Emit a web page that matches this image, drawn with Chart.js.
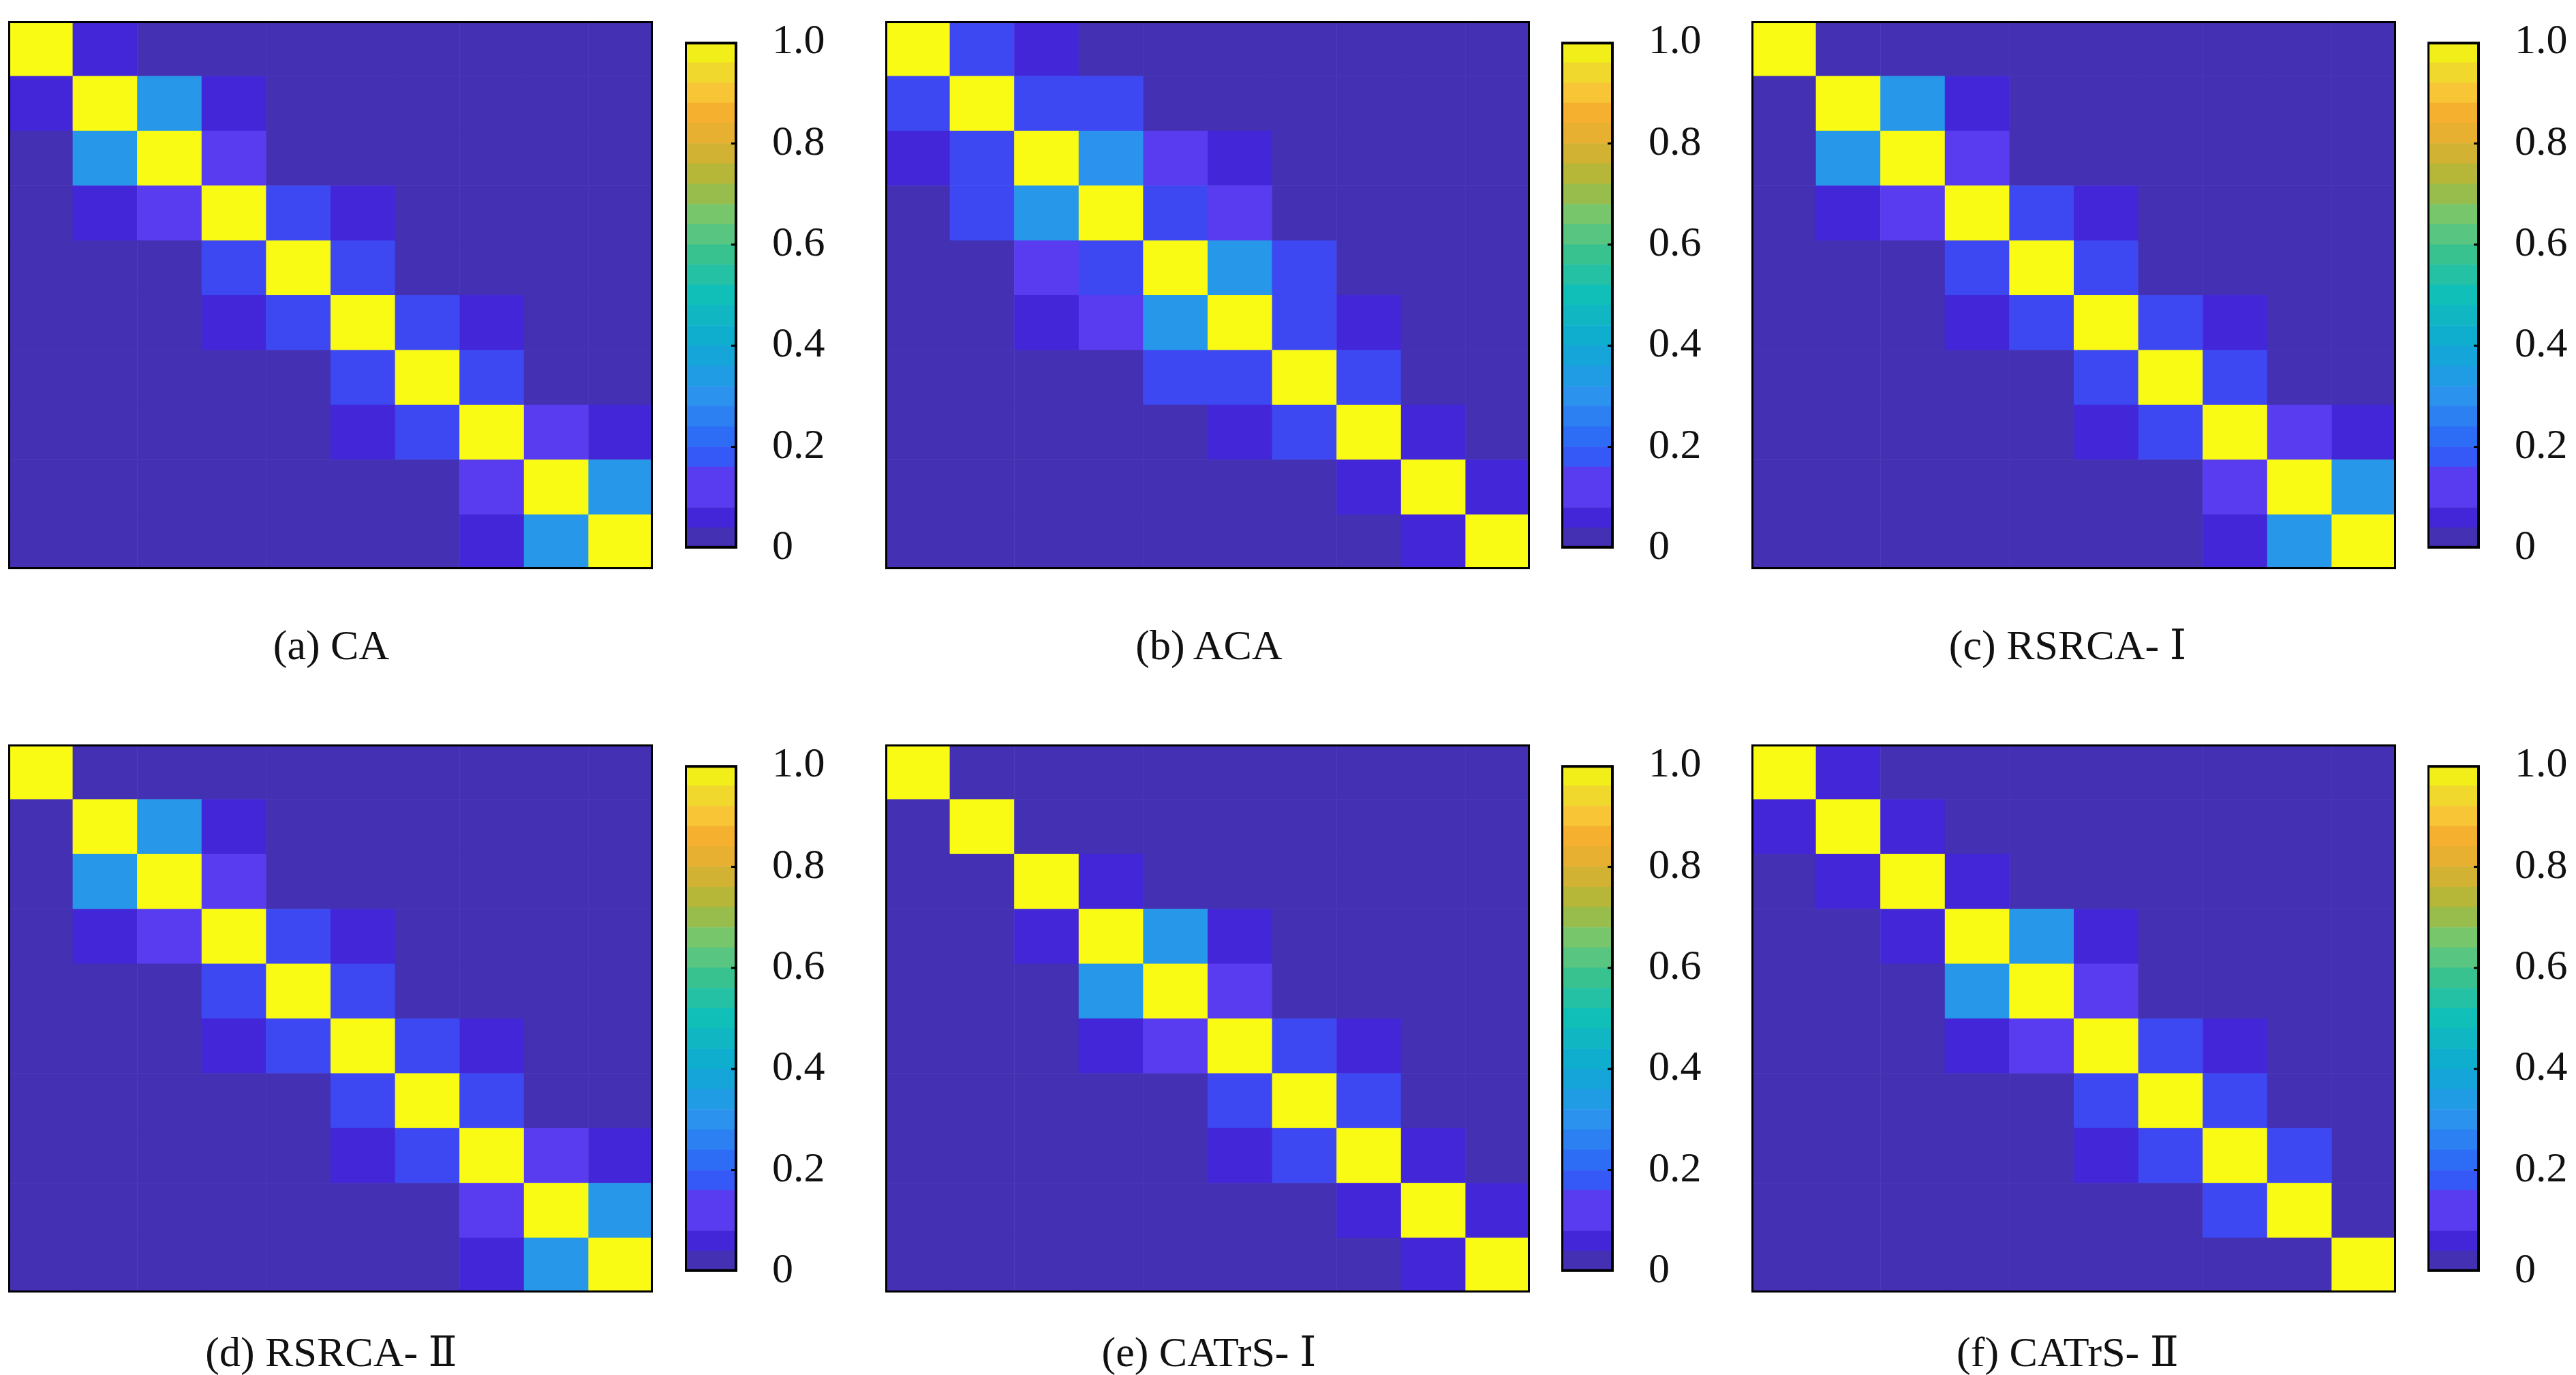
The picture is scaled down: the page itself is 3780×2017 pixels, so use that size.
<!DOCTYPE html>
<html><head><meta charset="utf-8">
<script src="https://cdn.jsdelivr.net/npm/chart.js@4.4.1/dist/chart.umd.min.js"></script>
<style>
body{margin:0;background:#fff;width:3780px;height:2017px;position:relative;overflow:hidden;font-family:"Liberation Serif","DejaVu Serif",serif}
canvas{position:absolute}
.lab{position:absolute;font-size:62px;color:#111;transform:translateX(-50%);white-space:nowrap;line-height:1}
</style></head><body>
<script>
const titles=["(a) CA","(b) ACA","(c) RSRCA- Ⅰ","(d) RSRCA- Ⅱ","(e) CATrS- Ⅰ","(f) CATrS- Ⅱ"];
const cbTicks=[0,0.2,0.4,0.6,0.8,1.0];
const matA=[
[1,.05,0,0,0,0,0,0,0,0],
[.05,1,.32,.05,0,0,0,0,0,0],
[0,.32,1,.1,0,0,0,0,0,0],
[0,.05,.1,1,.15,.05,0,0,0,0],
[0,0,0,.15,1,.15,0,0,0,0],
[0,0,0,.05,.15,1,.15,.05,0,0],
[0,0,0,0,0,.15,1,.15,0,0],
[0,0,0,0,0,.05,.15,1,.1,.05],
[0,0,0,0,0,0,0,.1,1,.32],
[0,0,0,0,0,0,0,.05,.32,1]];
const matB=[
[1,.15,.05,0,0,0,0,0,0,0],
[.15,1,.15,.15,0,0,0,0,0,0],
[.05,.15,1,.3,.1,.05,0,0,0,0],
[0,.15,.32,1,.15,.1,0,0,0,0],
[0,0,.1,.15,1,.32,.15,0,0,0],
[0,0,.05,.1,.32,1,.15,.05,0,0],
[0,0,0,0,.15,.15,1,.15,0,0],
[0,0,0,0,0,.05,.15,1,.05,0],
[0,0,0,0,0,0,0,.05,1,.05],
[0,0,0,0,0,0,0,0,.05,1]];
const matC=[
[1,0,0,0,0,0,0,0,0,0],
[0,1,.32,.05,0,0,0,0,0,0],
[0,.32,1,.1,0,0,0,0,0,0],
[0,.05,.1,1,.15,.05,0,0,0,0],
[0,0,0,.15,1,.15,0,0,0,0],
[0,0,0,.05,.15,1,.15,.05,0,0],
[0,0,0,0,0,.15,1,.15,0,0],
[0,0,0,0,0,.05,.15,1,.1,.05],
[0,0,0,0,0,0,0,.1,1,.32],
[0,0,0,0,0,0,0,.05,.32,1]];
const matD=[
[1,0,0,0,0,0,0,0,0,0],
[0,1,.32,.05,0,0,0,0,0,0],
[0,.32,1,.1,0,0,0,0,0,0],
[0,.05,.1,1,.15,.05,0,0,0,0],
[0,0,0,.15,1,.15,0,0,0,0],
[0,0,0,.05,.15,1,.15,.05,0,0],
[0,0,0,0,0,.15,1,.15,0,0],
[0,0,0,0,0,.05,.15,1,.1,.05],
[0,0,0,0,0,0,0,.1,1,.32],
[0,0,0,0,0,0,0,.05,.32,1]];
const matE=[
[1,0,0,0,0,0,0,0,0,0],
[0,1,0,0,0,0,0,0,0,0],
[0,0,1,.05,0,0,0,0,0,0],
[0,0,.05,1,.32,.05,0,0,0,0],
[0,0,0,.32,1,.1,0,0,0,0],
[0,0,0,.05,.1,1,.15,.05,0,0],
[0,0,0,0,0,.15,1,.15,0,0],
[0,0,0,0,0,.05,.15,1,.05,0],
[0,0,0,0,0,0,0,.05,1,.05],
[0,0,0,0,0,0,0,0,.05,1]];
const matF=[
[1,.05,0,0,0,0,0,0,0,0],
[.05,1,.05,0,0,0,0,0,0,0],
[0,.05,1,.05,0,0,0,0,0,0],
[0,0,.05,1,.32,.05,0,0,0,0],
[0,0,0,.32,1,.1,0,0,0,0],
[0,0,0,.05,.1,1,.15,.05,0,0],
[0,0,0,0,0,.15,1,.15,0,0],
[0,0,0,0,0,.05,.15,1,.15,0],
[0,0,0,0,0,0,0,.15,1,0],
[0,0,0,0,0,0,0,0,0,1]];
const mats=[matA,matB,matC,matD,matE,matF];

// colormap (style only)
const anchors=[[0,'#4330b3'],[.04,'#4330b3'],[.05,'#4326d8'],[.09,'#4326d8'],[.10,'#5a3cf0'],[.14,'#5a3cf0'],[.15,'#3d48f2'],[.2,'#2e64f8'],[.3,'#2b92ee'],[.4,'#10aad4'],[.5,'#10c0b8'],[.58,'#38c290'],[.65,'#70c874'],[.72,'#a8b83c'],[.8,'#e0b030'],[.86,'#f5b030'],[.92,'#f8d038'],[.96,'#e8e020'],[1,'#f9fb14']];
function hex(h){return [1,3,5].map(i=>parseInt(h.substr(i,2),16));}
function cmap(v){
  for(let i=1;i<anchors.length;i++){if(v<=anchors[i][0]+1e-9){const [a,ca]=anchors[i-1],[b,cb]=anchors[i];const t=b>a?(v-a)/(b-a):0;const A=hex(ca),B=hex(cb);return 'rgb('+A.map((x,k)=>Math.round(x+(B[k]-x)*t)).join(',')+')';}}
  return anchors[anchors.length-1][1];
}
const NB=25;
const binVals=Array.from({length:NB},()=>1/NB);

const colX=[[12,1005],[1299,2291],[2570,3562]];
const rowY=[31,1092];
const labX=[486,1774,3034], labY=[915,1952];
const W=946,H=804,CBW=76;

const heatPlugin={id:'heat',afterDatasetsDraw(ch){
  const m=ch.options.plugins.heat.mat,x=ch.scales.x,y=ch.scales.y,c=ch.ctx;
  for(let r=0;r<m.length;r++)for(let k=0;k<m[r].length;k++){
    const x0=x.getPixelForValue(k),x1=x.getPixelForValue(k+1),y0=y.getPixelForValue(r),y1=y.getPixelForValue(r+1);
    c.fillStyle=cmap(m[r][k]);c.fillRect(x0,y0,x1-x0+0.5,y1-y0+0.5);
  }
  const a=ch.chartArea;c.strokeStyle='#000';c.lineWidth=4;c.strokeRect(a.left+1,a.top+1,a.width-2,a.height-2);
}};
const framePlugin={id:'frame',afterDraw(ch){const a=ch.chartArea,c=ch.ctx;c.strokeStyle='#000';c.lineWidth=4;c.strokeRect(a.left+1,a.top+1,a.width-2,a.height-2);
  c.lineWidth=3;const y=ch.scales.y;cbTicks.slice(1,-1).forEach(v=>{const p=y.getPixelForValue(v);c.beginPath();c.moveTo(a.right-8,p);c.lineTo(a.right,p);c.stroke();});}};

function mk(left,top,w,h){const cv=document.createElement('canvas');cv.style.left=left+'px';cv.style.top=top+'px';cv.style.width=w+'px';cv.style.height=h+'px';cv.width=w;cv.height=h;document.body.appendChild(cv);return cv;}

mats.forEach((m,i)=>{
  const col=i%3,row=Math.floor(i/3);
  const [hx,cx]=colX[col],hy=rowY[row];
  new Chart(mk(hx,hy,W,H),{type:'scatter',data:{datasets:[{data:[]}]},
    options:{responsive:false,animation:false,devicePixelRatio:1,layout:{padding:0},
      plugins:{legend:{display:false},tooltip:{enabled:false},heat:{mat:m}},
      scales:{x:{type:'linear',min:0,max:10,display:false},y:{type:'linear',min:0,max:10,reverse:true,display:false}}},
    plugins:[heatPlugin]});
  const pad=50;
  new Chart(mk(cx,hy-pad,CBW+170,H+2*pad),{type:'bar',
    data:{labels:['c'],datasets:binVals.map((v,j)=>({data:[v],backgroundColor:cmap((j+0.5)/NB),borderWidth:0}))},
    options:{responsive:false,animation:false,devicePixelRatio:1,layout:{padding:{top:pad,bottom:pad,left:0,right:0}},
      plugins:{legend:{display:false},tooltip:{enabled:false}},
      datasets:{bar:{barPercentage:1,categoryPercentage:1}},
      scales:{x:{stacked:true,display:false},
        y:{stacked:true,min:0,max:1,position:'right',grid:{display:false},border:{display:false},
           afterFit:s=>{s.width=170;},
           afterBuildTicks:s=>{s.ticks=cbTicks.map(v=>({value:v}));},
           ticks:{padding:44,color:'#111',font:{family:'Liberation Serif',size:62},callback:v=>v===0?'0':v.toFixed(1)}}}},
    plugins:[framePlugin]});
  const d=document.createElement('div');d.className='lab';d.style.left=labX[col]+'px';d.style.top=labY[row]+'px';d.textContent=titles[i];document.body.appendChild(d);
});
</script>
</body></html>
